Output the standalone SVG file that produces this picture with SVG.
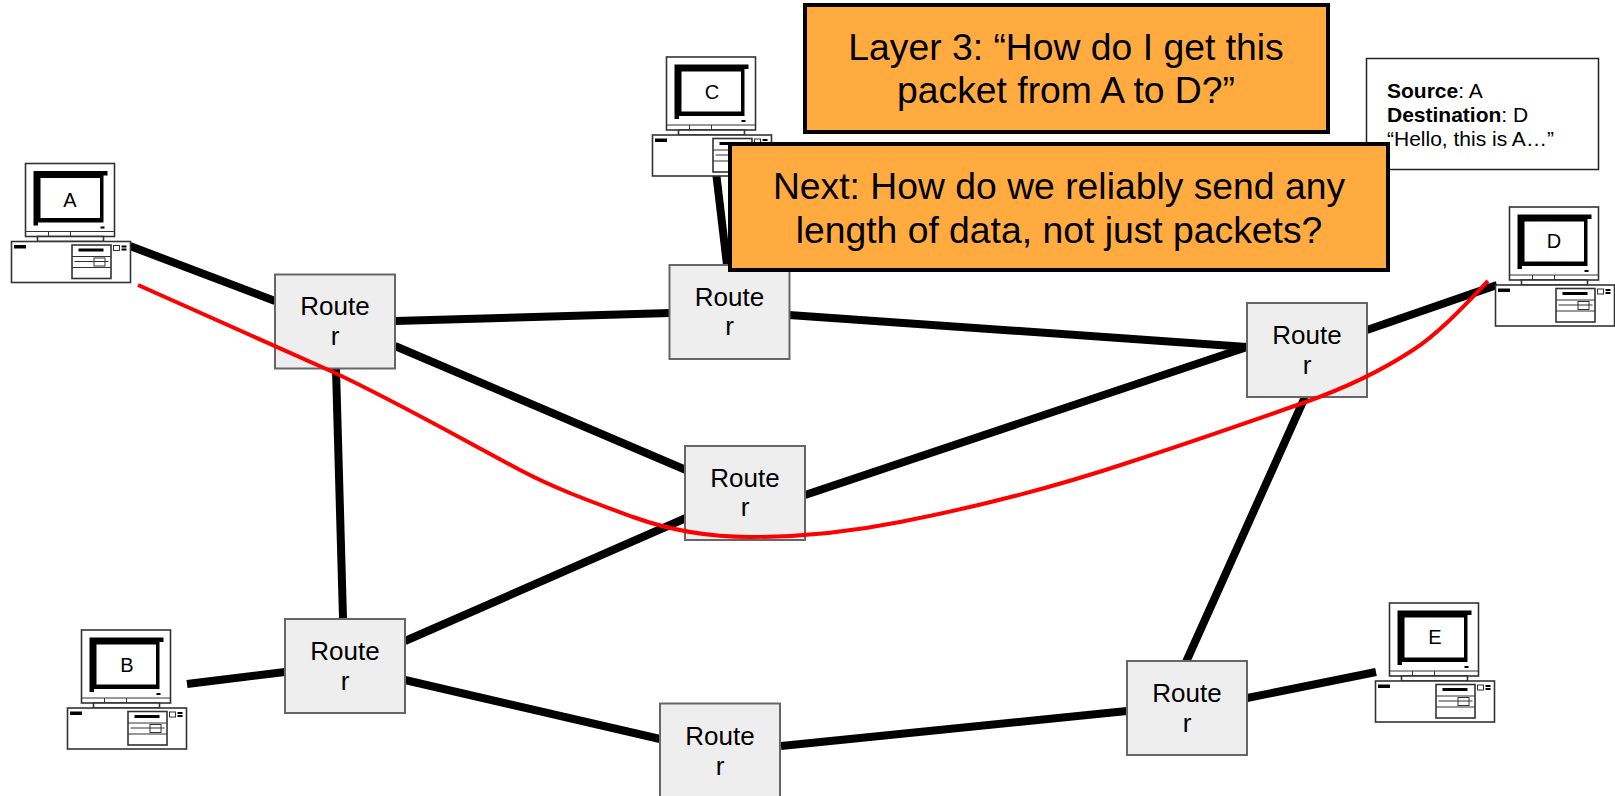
<svg xmlns="http://www.w3.org/2000/svg" width="1615" height="796" viewBox="0 0 1615 796">
<style>
text{font-family:"Liberation Sans",Arial,sans-serif;fill:#000}
.l{stroke:#000;stroke-width:8;fill:none}
.r{fill:#eee;stroke:#666;stroke-width:2}
.rt{font-size:26px;text-anchor:middle}
.c{fill:#fff;stroke:#333;stroke-width:1.6}
.t{fill:none;stroke:#333;stroke-width:1}
.ct{font-size:20px;text-anchor:middle}
.o{fill:#ffab40;stroke:#000;stroke-width:4}
.ot{font-size:37.300px;text-anchor:middle}
.pt{font-size:21px}
</style>
<defs>
<g id="pc">
<rect class="c" x="0" y="0" width="89" height="73"/>
<path d="M8 7.500H82V12H78V59H12.500V62H8z" fill="#000"/>
<rect x="15" y="14.500" width="59.500" height="40" fill="#fff"/>
<rect x="75" y="63" width="4" height="2" fill="#000"/>
<path class="t" d="M0 68H89M23 68v5M45 68v5"/>
<rect class="c" x="12" y="73" width="66" height="5"/>
<rect class="c" x="-14" y="78" width="119" height="41"/>
<rect x="-11.500" y="81.500" width="12" height="3.500" fill="#000"/>
<rect class="c" x="46.500" y="81.500" width="39" height="33.500"/>
<rect x="53" y="85" width="25" height="3" fill="#000"/>
<path class="t" d="M46.500 93H85.500M46.500 104H85.500M49 98H83"/>
<rect class="t" x="68.500" y="94.500" width="11" height="8"/>
<rect class="t" x="88" y="82" width="6" height="5"/>
<rect x="96" y="82" width="5" height="2" fill="#000"/>
<rect x="96" y="85" width="5" height="2" fill="#000"/>
</g>
</defs>
<g id="connectors">
<path class="l" d="M130 246L275 301"/>
<path class="l" d="M395 321L670 313"/>
<path class="l" d="M395 346L686 470"/>
<path class="l" d="M336 369L343 618"/>
<path class="l" d="M716 172L727 265"/>
<path class="l" d="M789 315L1247 347"/>
<path class="l" d="M805 495L1247 347"/>
<path class="l" d="M1367 330L1497 285"/>
<path class="l" d="M1305 397L1186 662"/>
<path class="l" d="M405 641L686 518"/>
<path class="l" d="M187 684L285 672"/>
<path class="l" d="M405 680L660 739"/>
<path class="l" d="M781 746L1127 711"/>
<path class="l" d="M1247 698L1376 672"/>
</g>
<g id="computer-a"><use href="#pc" x="25.500" y="163.500"/><text class="ct" x="70" y="207">A</text></g>
<g id="computer-c"><use href="#pc" x="666.500" y="57"/><text class="ct" x="712" y="99">C</text></g>
<g id="computer-d"><use href="#pc" x="1509.500" y="207"/><text class="ct" x="1554" y="248">D</text></g>
<g id="computer-b"><use href="#pc" x="81.500" y="630"/><text class="ct" x="127" y="672">B</text></g>
<g id="computer-e"><use href="#pc" x="1389.500" y="603"/><text class="ct" x="1435" y="644">E</text></g>
<g id="router-1"><rect class="r" x="275" y="274.500" width="120" height="94"/><text class="rt" x="335" y="315">Route</text><text class="rt" x="335" y="345">r</text></g>
<g id="router-2"><rect class="r" x="669.500" y="265" width="120" height="94"/><text class="rt" x="729.500" y="306">Route</text><text class="rt" x="729.500" y="335">r</text></g>
<g id="router-3"><rect class="r" x="1247" y="303" width="120" height="94"/><text class="rt" x="1307" y="344">Route</text><text class="rt" x="1307" y="374">r</text></g>
<g id="router-4"><rect class="r" x="685" y="446" width="120" height="94"/><text class="rt" x="745" y="487">Route</text><text class="rt" x="745" y="516">r</text></g>
<g id="router-5"><rect class="r" x="285" y="619" width="120" height="94"/><text class="rt" x="345" y="660">Route</text><text class="rt" x="345" y="690">r</text></g>
<g id="router-6"><rect class="r" x="660" y="703.500" width="120" height="94"/><text class="rt" x="720" y="745">Route</text><text class="rt" x="720" y="775">r</text></g>
<g id="router-7"><rect class="r" x="1127" y="661" width="120" height="94"/><text class="rt" x="1187" y="702">Route</text><text class="rt" x="1187" y="732">r</text></g>
<path id="route" d="M138 285L333 372C395 401 458 437 520 470C558 490 595 503 633 517C672 531 710 537 750 537C800 537 850 532 900 522C977 507 1055 487 1130 462C1188 443 1246 423 1303 403C1340 390 1378 373 1413 350C1438 334 1463 307 1488 281" fill="none" stroke="#f00" stroke-width="4"/>
<g id="packet"><rect x="1366.500" y="58.500" width="232" height="111" fill="#fff" stroke="#222" stroke-width="1.500"/>
<text class="pt" x="1387" y="98"><tspan font-weight="bold">Source</tspan>: A</text>
<text class="pt" x="1387" y="122"><tspan font-weight="bold">Destination</tspan>: D</text>
<text class="pt" x="1387" y="146">“Hello, this is A…”</text></g>
<g id="callout-layer3"><rect class="o" x="805" y="5" width="523" height="127"/><text class="ot" x="1066" y="60">Layer 3: “How do I get this</text><text class="ot" x="1066" y="103">packet from A to D?”</text></g>
<g id="callout-next"><rect class="o" x="730" y="144" width="658" height="126"/><text class="ot" x="1059" y="199">Next: How do we reliably send any</text><text class="ot" x="1059" y="243">length of data, not just packets?</text></g>
</svg>
